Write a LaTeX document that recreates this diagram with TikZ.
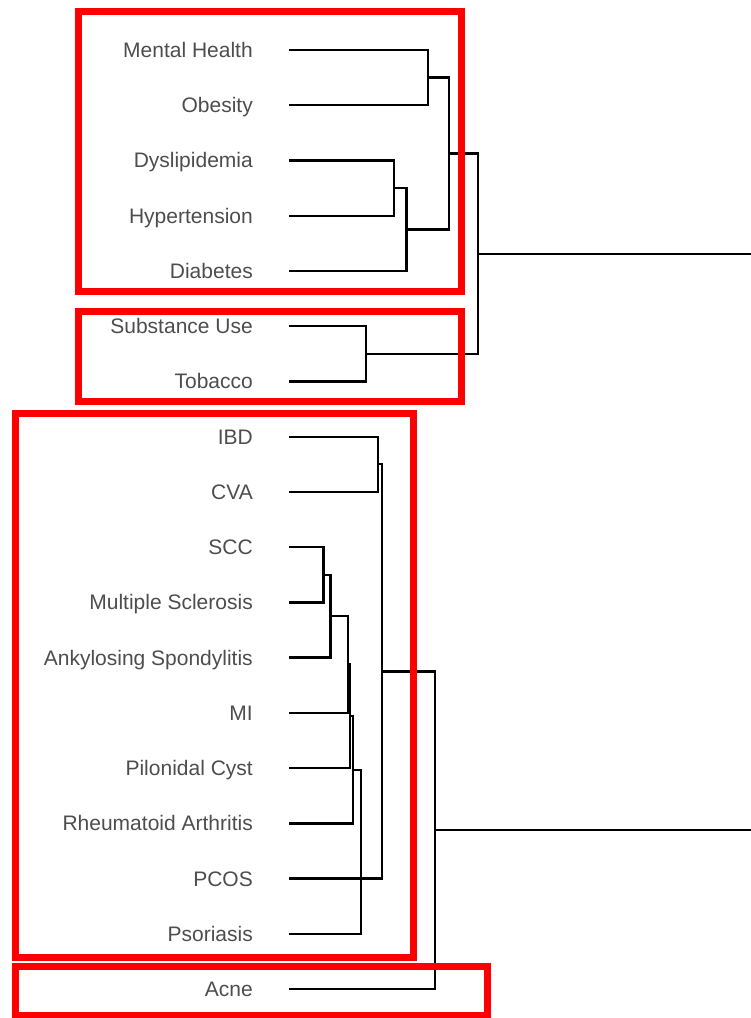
\documentclass[tikz,border=0pt]{standalone}
\usepackage{fontspec}
\setmainfont{Liberation Sans}
\usepackage{xcolor}
\usepackage{tikz}
\usetikzlibrary{calc}
\definecolor{axisgrey}{RGB}{77,77,77}
\definecolor{boxred}{RGB}{255,0,0}

\begin{document}
\begin{tikzpicture}[x=1pt, y=-1pt,
  lbl/.style={anchor=east, inner sep=0pt, text height=15pt, text depth=0pt,
    text=axisgrey, font=\fontsize{21}{25}\selectfont},
  branch/.style={line width=2.3pt, black},
  redbox/.style={line width=7pt, boxred}]
  \useasboundingbox (0,0) rectangle (751,1018);
  % leaf labels and tips
  \foreach \n/\l [count=\i from 0] in {mh/Mental Health, obe/Obesity, dys/Dyslipidemia,
      hyp/Hypertension, dia/Diabetes, sub/Substance Use, tob/Tobacco, ibd/IBD, cva/CVA,
      scc/SCC, ms/Multiple Sclerosis, ank/Ankylosing Spondylitis, mi/MI,
      pil/Pilonidal Cyst, ra/Rheumatoid Arthritis, pcos/PCOS, pso/Psoriasis, acne/Acne} {
    \node[lbl] (\n) at (253, 50+55.24*\i) {\l};
    \coordinate (\n-t) at (289, 50+55.24*\i);
  }
  % upper merges
  \coordinate (mA) at (428, 77.6);
  \coordinate (mB) at (394, 188.1);
  \coordinate (mC) at (406.5, 229.5);
  \coordinate (mD) at (449, 153.6);
  \coordinate (mE) at (366, 353.8);
  \coordinate (mF) at (478, 253.7);
  \coordinate (rootA) at (751, 253.7);
  \draw[branch] (mh-t) -| (mA) |- (obe-t);
  \draw[branch] (dys-t) -| (mB) |- (hyp-t);
  \draw[branch] (mB) -| (mC) |- (dia-t);
  \draw[branch] (mA) -| (mD) |- (mC);
  \draw[branch] (sub-t) -| (mE) |- (tob-t);
  \draw[branch] (mD) -| (mF) |- (mE);
  \draw[branch] (mF) -- (rootA);
  % lower merges
  \coordinate (mG) at (378, 464.3);
  \coordinate (mH) at (323.5, 574.8);
  \coordinate (mI) at (330.5, 616.2);
  \coordinate (mJ) at (348, 664.5);
  \coordinate (mK) at (350, 716.3);
  \coordinate (mL) at (353.3, 769.9);
  \coordinate (mM) at (361, 851.8);
  \coordinate (mN) at (382.3, 671.5);
  \coordinate (mO) at (435, 830.2);
  \coordinate (rootB) at (751, 830.2);
  \draw[branch] (ibd-t) -| (mG) |- (cva-t);
  \draw[branch] (scc-t) -| (mH) |- (ms-t);
  \draw[branch] (mH) -| (mI) |- (ank-t);
  \draw[branch] (mI) -| (mJ) |- (mi-t);
  \draw[branch] (mJ) -| (mK) |- (pil-t);
  \draw[branch] (mK) -| (mL) |- (ra-t);
  \draw[branch] (mL) -| (mM) |- (pso-t);
  \draw[branch] (mG) -| (mN) |- (pcos-t);
  \draw[branch] (mN) -| (mO) |- (acne-t);
  \draw[branch] (mO) -- (rootB);
  % highlighted groups
  \draw[redbox] (78,11) rectangle (461,291);
  \draw[redbox] (78,311) rectangle (461,401);
  \draw[redbox] (15,413.5) rectangle (413,957);
  \draw[redbox] (15,966) rectangle (487,1015);
\end{tikzpicture}
\end{document}
